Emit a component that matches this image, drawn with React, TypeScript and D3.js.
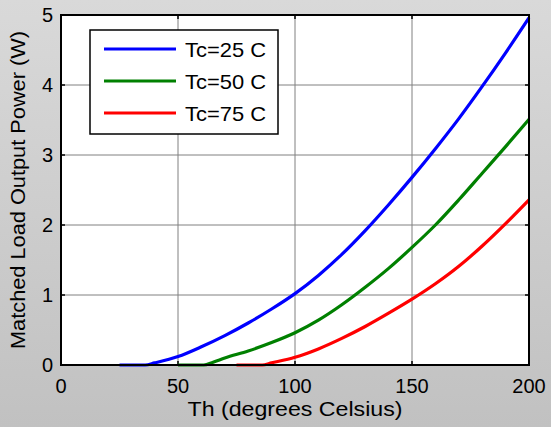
import React, { useEffect, useRef } from 'react';
import * as d3 from 'd3';

const thBlue = [25, 30, 36, 40, 50, 60, 70, 80, 90, 100, 110, 120, 130, 140, 150, 160, 170, 180, 190, 200];
const pBlue = [0, 0, 0, 0.03, 0.12, 0.26, 0.42, 0.6, 0.8, 1.02, 1.28, 1.58, 1.92, 2.29, 2.68, 3.09, 3.52, 3.98, 4.46, 4.96];

const thGreen = [50, 55, 61, 65, 70, 80, 90, 100, 110, 120, 130, 140, 150, 160, 170, 180, 190, 200];
const pGreen = [0, 0, 0, 0.04, 0.1, 0.2, 0.32, 0.46, 0.64, 0.86, 1.11, 1.38, 1.68, 2.0, 2.36, 2.74, 3.12, 3.51];

const thRed = [75, 80, 86, 90, 100, 110, 120, 130, 140, 150, 160, 170, 180, 190, 200];
const pRed = [0, 0, 0, 0.03, 0.11, 0.23, 0.38, 0.55, 0.74, 0.94, 1.16, 1.41, 1.7, 2.02, 2.36];

const seriesNames = ['Tc=25 C', 'Tc=50 C', 'Tc=75 C'];
const seriesColors = ['#0000ff', '#008000', '#ff0000'];
const xTicks = [0, 50, 100, 150, 200];
const yTicks = [0, 1, 2, 3, 4, 5];

const W = 551;
const H = 427;
const margin = { top: 15, right: 22, bottom: 62, left: 61 };
const FONT = '"Liberation Sans", Arial, sans-serif';

export default function App() {
  const svgRef = useRef<SVGSVGElement>(null);

  useEffect(() => {
    if (!svgRef.current) return;
    d3.select(svgRef.current).selectAll('*').remove();
    const svg = d3.select(svgRef.current);

    // background gradient
    const defs = svg.append('defs');
    const grad = defs.append('linearGradient').attr('id', 'bg').attr('x1', 0).attr('y1', 0).attr('x2', 0).attr('y2', 1);
    grad.append('stop').attr('offset', '0%').attr('stop-color', '#d9d9d9');
    grad.append('stop').attr('offset', '100%').attr('stop-color', '#c1c1c1');
    svg.append('rect').attr('width', W).attr('height', H).attr('fill', 'url(#bg)');

    const x = d3.scaleLinear().domain([0, 200]).range([margin.left, W - margin.right]);
    const y = d3.scaleLinear().domain([0, 5]).range([H - margin.bottom, margin.top]);

    // plot area
    svg.append('rect')
      .attr('x', x(0)).attr('y', y(5))
      .attr('width', x(200) - x(0)).attr('height', y(0) - y(5))
      .attr('fill', '#ffffff');

    // grid
    svg.append('g').selectAll('line')
      .data(xTicks.slice(1, -1))
      .join('line')
      .attr('x1', d => x(d)).attr('x2', d => x(d))
      .attr('y1', y(0)).attr('y2', y(5))
      .attr('stroke', '#808080').attr('stroke-width', 1);
    svg.append('g').selectAll('line')
      .data(yTicks.slice(1, -1))
      .join('line')
      .attr('x1', x(0)).attr('x2', x(200))
      .attr('y1', d => y(d)).attr('y2', d => y(d))
      .attr('stroke', '#808080').attr('stroke-width', 1);

    // ticks (inward, both sides)
    const tickLen = 4;
    const tg = svg.append('g').attr('stroke', '#000').attr('stroke-width', 1.5);
    xTicks.forEach(t => {
      tg.append('line').attr('x1', x(t)).attr('x2', x(t)).attr('y1', y(0)).attr('y2', y(0) - tickLen);
      tg.append('line').attr('x1', x(t)).attr('x2', x(t)).attr('y1', y(5)).attr('y2', y(5) + tickLen);
    });
    yTicks.forEach(t => {
      tg.append('line').attr('x1', x(0)).attr('x2', x(0) + tickLen).attr('y1', y(t)).attr('y2', y(t));
      tg.append('line').attr('x1', x(200)).attr('x2', x(200) - tickLen).attr('y1', y(t)).attr('y2', y(t));
    });

    // lines
    const line = d3.line<[number, number]>()
      .x(d => x(d[0]))
      .y(d => y(d[1]))
      .curve(d3.curveMonotoneX);
    const series: [number, number][][] = [
      thBlue.map((t, i) => [t, pBlue[i]]),
      thGreen.map((t, i) => [t, pGreen[i]]),
      thRed.map((t, i) => [t, pRed[i]]),
    ];
    svg.append('g').selectAll('path')
      .data(series)
      .join('path')
      .attr('d', d => line(d))
      .attr('fill', 'none')
      .attr('stroke', (_, i) => seriesColors[i])
      .attr('stroke-width', 3.2);

    // axes box
    svg.append('rect')
      .attr('x', x(0)).attr('y', y(5))
      .attr('width', x(200) - x(0)).attr('height', y(0) - y(5))
      .attr('fill', 'none').attr('stroke', '#000').attr('stroke-width', 2);

    // tick labels
    svg.append('g').selectAll('text')
      .data(xTicks)
      .join('text')
      .attr('x', d => x(d)).attr('y', y(0) + 28)
      .attr('text-anchor', 'middle')
      .attr('font-family', FONT).attr('font-size', 20)
      .attr('fill', '#000')
      .text(d => d);
    svg.append('g').selectAll('text')
      .data(yTicks)
      .join('text')
      .attr('x', x(0) - 8).attr('y', d => y(d) + 7)
      .attr('text-anchor', 'end')
      .attr('font-family', FONT).attr('font-size', 20)
      .attr('fill', '#000')
      .text(d => d);

    // axis labels
    svg.append('text')
      .attr('x', (x(0) + x(200)) / 2).attr('y', 416)
      .attr('text-anchor', 'middle')
      .attr('font-family', FONT).attr('font-size', 20)
      .attr('textLength', 215).attr('lengthAdjust', 'spacingAndGlyphs')
      .text('Th (degrees Celsius)');
    svg.append('text')
      .attr('transform', `translate(25,${(y(0) + y(5)) / 2}) rotate(-90)`)
      .attr('text-anchor', 'middle')
      .attr('font-family', FONT).attr('font-size', 20)
      .attr('textLength', 318).attr('lengthAdjust', 'spacingAndGlyphs')
      .text('Matched Load Output Power (W)');

    // legend
    const lg = svg.append('g');
    lg.append('rect')
      .attr('x', 90).attr('y', 30).attr('width', 188).attr('height', 104)
      .attr('fill', '#fff').attr('stroke', '#000').attr('stroke-width', 1.5);
    seriesNames.forEach((name, i) => {
      const yy = 49 + i * 32;
      lg.append('line')
        .attr('x1', 104).attr('x2', 176).attr('y1', yy).attr('y2', yy)
        .attr('stroke', seriesColors[i]).attr('stroke-width', 3.2);
      lg.append('text')
        .attr('x', 185).attr('y', yy + 8)
        .attr('font-family', FONT).attr('font-size', 21)
        .attr('textLength', 81).attr('lengthAdjust', 'spacingAndGlyphs')
        .text(name);
    });
  }, []);

  return (
    <svg
      ref={svgRef}
      width={W}
      height={H}
      style={{ position: 'absolute', left: 0, top: 0, display: 'block' }}
    />
  );
}
